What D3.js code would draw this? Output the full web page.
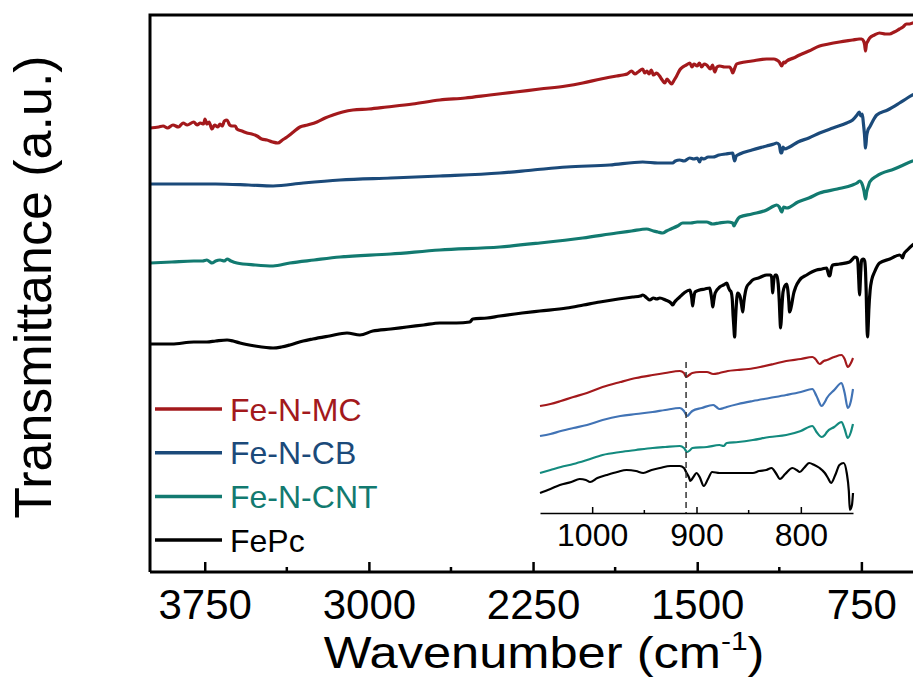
<!DOCTYPE html>
<html>
<head>
<meta charset="utf-8">
<script src="https://cdn.jsdelivr.net/npm/d3@7"></script>
<style>
    body { margin: 0; background: #fff; }
    text { font-family: "Liberation Sans", Arial, sans-serif; }
</style>
</head>
<body>
<div id="chart"></div>
<script>
// series names and colours
var seriesNames = ["Fe-N-MC", "Fe-N-CB", "Fe-N-CNT", "FePc"];
var seriesColors = ["#a3191c", "#1b4a7a", "#127a70", "#000000"];
var insetColors = ["#a3191c", "#4173b5", "#138a7e", "#000000"];

// main spectra: [wavenumber, transmittance (a.u., offset)]
var feNMC = [[4000,444],[3960,445],[3940,446],[3920,444],[3895,447],[3870,445],[3849,449],[3830,447],[3800,450],[3785,447],[3770,449],[3755,448],[3749,453],[3740,448],[3730,450],[3717,443],[3705,447],[3690,445],[3680,448],[3670,446],[3660,451],[3648,452],[3636,447],[3626,446],[3610,446],[3603,443],[3580,441],[3557,439],[3535,438],[3511,436],[3490,433],[3466,432],[3440,430],[3416,429],[3395,432],[3374,435],[3345,440],[3315,445],[3280,447],[3237,450],[3200,454],[3164,457],[3120,460],[3073,462],[3000,463],[2918,465],[2800,468],[2676,472],[2560,474],[2447,477],[2330,480],[2219,483],[2100,486],[2023,489],[1940,493],[1868,496],[1840,497],[1820,498],[1800,501],[1785,498],[1770,500],[1749,503],[1740,499],[1730,501],[1720,498],[1710,502],[1700,497],[1685,499],[1672,496],[1660,492],[1648,489],[1638,493],[1630,491],[1617,488],[1605,492],[1594,496],[1580,502],[1566,505],[1550,507],[1534,509],[1524,505],[1515,508],[1500,506],[1490,509],[1480,505],[1468,508],[1457,507],[1440,503],[1430,507],[1420,500],[1410,505],[1397,506],[1375,505],[1352,505],[1343,502],[1338,499],[1330,503],[1320,508],[1306,509],[1250,511],[1183,513],[1150,513],[1137,512],[1125,510],[1114,506],[1105,510],[1101,509],[1091,511],[1060,514],[1032,517],[990,521],[941,526],[900,528],[850,530],[790,532],[760,533],[749,533],[740,531],[735,527],[731,521],[727,528],[720,531],[712,534],[690,537],[667,539],[640,538],[621,538],[600,540],[576,543],[560,545],[544,548],[530,548],[516,549],[480,552]];
var feNCB = [[4000,388],[3850,388],[3700,388],[3550,387],[3438,386],[3300,389],[3132,392],[2900,394],[2676,396],[2402,399],[2250,402],[2096,405],[1900,407],[1749,410],[1680,409],[1612,409],[1600,411],[1580,412],[1560,411],[1534,414],[1515,413],[1500,414],[1489,410],[1482,414],[1470,413],[1450,415],[1429,415],[1400,417],[1370,418],[1338,419],[1333,414],[1329,411],[1322,416],[1306,418],[1250,422],[1183,426],[1150,428],[1137,429],[1125,427],[1118,419],[1114,419],[1108,425],[1101,423],[1078,425],[1040,430],[990,434],[941,439],[880,444],[817,449],[790,452],[770,457],[760,460],[752,456],[746,458],[741,449],[736,438],[731,424],[726,436],[720,442],[712,445],[700,450],[680,457],[630,462],[576,469],[540,474],[516,477],[480,481]];
var feNCNT = [[4000,309],[3900,310],[3800,311],[3760,311],[3740,312],[3725,310],[3717,309],[3700,311],[3680,312],[3660,311],[3648,313],[3630,311],[3603,309],[3520,307],[3438,306],[3361,309],[3250,312],[3132,315],[2900,318],[2676,322],[2402,325],[2219,329],[2023,334],[1868,339],[1800,341],[1731,343],[1700,341],[1680,340],[1658,339],[1640,341],[1620,343],[1590,346],[1566,349],[1530,349],[1500,350],[1457,350],[1430,348],[1400,349],[1360,350],[1338,349],[1332,346],[1325,349],[1306,355],[1250,358],[1183,362],[1150,366],[1137,367],[1125,365],[1114,360],[1105,365],[1091,364],[1040,370],[990,374],[941,379],[860,383],[790,387],[770,389],[758,391],[745,387],[738,381],[731,373],[726,380],[718,386],[712,390],[680,396],[600,403],[516,411],[480,414]];
var fePc = [[4000,228],[3900,228],[3800,230],[3740,230],[3700,231],[3648,232],[3620,231],[3589,229],[3520,226],[3438,224],[3400,225],[3361,227],[3300,231],[3256,233],[3180,236],[3100,239],[3041,237],[2982,241],[2900,243],[2827,245],[2750,247],[2676,249],[2600,249],[2539,250],[2525,253],[2460,254],[2402,256],[2300,259],[2219,261],[2096,264],[2020,267],[1945,270],[1860,273],[1795,275],[1760,276],[1749,277],[1730,274],[1717,272],[1700,274],[1685,273],[1671,274],[1645,272],[1620,269],[1612,267],[1603,270],[1595,272],[1580,275],[1560,279],[1534,282],[1528,278],[1525,274],[1521,266],[1516,274],[1510,280],[1489,282],[1465,283],[1443,284],[1437,278],[1433,272],[1429,265],[1424,272],[1418,279],[1397,285],[1380,287],[1365,289],[1358,285],[1352,282],[1345,280],[1340,273],[1336,256],[1333,246],[1329,235],[1326,248],[1322,265],[1315,279],[1305,276],[1298,268],[1292,260],[1287,270],[1280,280],[1274,285],[1260,289],[1247,292],[1220,294],[1183,297],[1165,297],[1160,295],[1157,284],[1155,279],[1152,288],[1145,297],[1137,297],[1130,288],[1125,270],[1122,254],[1119,244],[1116,252],[1113,265],[1108,280],[1100,286],[1091,288],[1086,282],[1082,272],[1078,260],[1074,262],[1068,268],[1060,278],[1050,285],[1032,292],[1000,297],[955,302],[930,303],[909,304],[903,300],[897,296],[893,297],[888,303],[881,307],[850,308],[804,310],[790,313],[781,315],[770,314],[766,310],[762,292],[760,282],[758,277],[756,285],[753,300],[749,312],[740,313],[735,311],[731,300],[728,280],[725,250],[722,235],[719,245],[716,262],[710,282],[703,292],[690,300],[667,309],[620,313],[576,317],[568,316],[562,314],[556,318],[540,322],[516,327],[480,332]];
var mainSeries = [feNMC, feNCB, feNCNT, fePc];

// inset spectra (1050 - 750 cm-1)
var insetMC = [[1050,107],[1040,109],[1030,112],[1018,116],[1005,120],[990,126],[973,131],[958,135],[942,138],[930,140],[916,142],[912,140],[910,136],[907,138],[904,140],[897,141],[890,141],[884,139],[878,140],[870,142],[861,143],[850,144],[839,146],[826,149],[814,152],[800,154],[789,156],[786,154],[782,149],[778,152],[775,153],[768,156],[761,158],[758,154],[755,146],[752,150],[750,155]];
var insetCB = [[1050,77],[1040,79],[1030,82],[1018,85],[1005,88],[990,93],[973,97],[958,99],[942,101],[930,103],[916,105],[912,102],[909,97],[906,100],[904,102],[895,105],[884,108],[881,106],[878,104],[874,105],[871,106],[860,109],[846,112],[830,115],[814,118],[800,121],[789,124],[785,117],[780,107],[777,111],[775,115],[768,123],[761,130],[758,120],[755,105],[752,112],[750,124]];
var insetCNT = [[1050,40],[1040,43],[1030,46],[1018,49],[1005,53],[990,58],[973,61],[958,63],[942,65],[930,66],[916,67],[912,65],[909,61],[906,63],[904,65],[890,66],[878,68],[874,67],[871,70],[860,71],[846,73],[830,76],[814,78],[800,82],[789,87],[785,81],[780,76],[777,78],[775,81],[768,86],[761,91],[758,84],[755,75],[752,81],[750,89]];
var insetPc = [[1050,20],[1040,24],[1031,28],[1020,31],[1012,34],[1006,33],[1002,31],[995,35],[986,38],[976,41],[967,43],[958,42],[951,40],[943,43],[935,45],[925,47],[916,47],[912,45],[910,41],[907,35],[906,32],[903,36],[900,40],[897,36],[893,27],[889,34],[885,41],[878,40],[871,40],[860,40],[846,40],[840,42],[833,43],[828,45],[824,40],[820,34],[815,39],[808,45],[804,43],[801,41],[797,45],[792,50],[787,48],[782,45],[777,40],[774,35],[771,30],[767,38],[763,48],[759,50],[756,40],[754,22],[753,3],[751,8],[750,20]];
var insetSeries = [insetMC, insetCB, insetCNT, insetPc];

var mainTicks = [3750, 3000, 2250, 1500, 750];
var mainMinorTicks = [3375, 2625, 1875, 1125];
var insetTicks = [1000, 900, 800];
var insetMinorTicks = [950, 850];
var markedPeak = 910;

var svgWidth = 913;
var svgHeight = 677;

var svg = d3.select("#chart")
    .append("svg")
    .attr("width", svgWidth)
    .attr("height", svgHeight);

// scales
var xScale = d3.scaleLinear().domain([4000, 400]).range([150, 938]);
var yScale = d3.scaleLinear().domain([0, 557]).range([572, 15]);

var xInset = d3.scaleLinear().domain([1050, 750]).range([540, 853]);
var yInset = d3.scaleLinear().domain([0, 160]).range([513, 353]);

var line = d3.line()
    .curve(d3.curveMonotoneX)
    .x(function(d) { return xScale(d[0]); })
    .y(function(d) { return yScale(d[1]); });

var insetLine = d3.line()
    .curve(d3.curveMonotoneX)
    .x(function(d) { return xInset(d[0]); })
    .y(function(d) { return yInset(d[1]); });

// main curves
svg.append("g")
    .selectAll("path")
    .data(mainSeries)
    .enter()
    .append("path")
    .attr("d", line)
    .attr("fill", "none")
    .attr("stroke", function(d, i) { return seriesColors[i]; })
    .attr("stroke-width", 3.2)
    .attr("stroke-linejoin", "round");

// frame
svg.append("path")
    .attr("d", "M" + xScale(4000) + "," + yScale(0) + "V" + yScale(557) + "H" + svgWidth)
    .attr("fill", "none")
    .attr("stroke", "#000")
    .attr("stroke-width", 3);

// bottom axis, ticks inward
var bottomAxis = d3.axisBottom(xScale)
    .tickValues(mainTicks)
    .tickSize(-10)
    .tickPadding(17)
    .tickFormat(d3.format("d"));

var gx = svg.append("g")
    .attr("transform", "translate(0," + yScale(0) + ")")
    .call(bottomAxis);
gx.select(".domain").attr("stroke-width", 3).attr("d", "M150,0H" + svgWidth);
gx.selectAll(".tick line").attr("stroke-width", 2.5);
gx.selectAll(".tick text").attr("font-size", 42).attr("fill", "#000")
    .attr("font-family", "'Liberation Sans', Arial, sans-serif");

gx.selectAll(".minor")
    .data(mainMinorTicks)
    .enter()
    .append("line")
    .attr("x1", function(d) { return xScale(d); })
    .attr("x2", function(d) { return xScale(d); })
    .attr("y1", 0)
    .attr("y2", -5)
    .attr("stroke", "#000")
    .attr("stroke-width", 2.5);

// axis titles
var xTitle = svg.append("text")
    .attr("transform", "translate(" + (xScale(4000) + xScale(400)) / 2 + ",668) scale(1.15,1)")
    .attr("text-anchor", "middle")
    .attr("font-size", 44);
xTitle.append("tspan").text("Wavenumber (cm");
xTitle.append("tspan").attr("font-size", 26).attr("dy", -18).text("-1");
xTitle.append("tspan").attr("dy", 18).text(")");

svg.append("text")
    .attr("transform", "translate(51," + 287 + ") rotate(-90)")
    .attr("text-anchor", "middle")
    .attr("font-size", 52)
    .text("Transmittance (a.u.)");

// legend
var legend = svg.append("g")
    .selectAll("g")
    .data(seriesNames)
    .enter()
    .append("g")
    .attr("transform", function(d, i) { return "translate(155," + (409 + i * 43.7) + ")"; });

legend.append("line")
    .attr("x1", 0)
    .attr("x2", 67)
    .attr("stroke", function(d, i) { return seriesColors[i]; })
    .attr("stroke-width", 3.5);

legend.append("text")
    .attr("x", 75)
    .attr("y", 11.5)
    .attr("font-size", 32)
    .attr("fill", function(d, i) { return seriesColors[i]; })
    .text(function(d) { return d; });

// inset
var inset = svg.append("g");

inset.selectAll("path")
    .data(insetSeries)
    .enter()
    .append("path")
    .attr("d", insetLine)
    .attr("fill", "none")
    .attr("stroke", function(d, i) { return insetColors[i]; })
    .attr("stroke-width", 2.2)
    .attr("stroke-linejoin", "round");

inset.append("line")
    .attr("x1", xInset(markedPeak))
    .attr("x2", xInset(markedPeak))
    .attr("y1", yInset(151))
    .attr("y2", yInset(0))
    .attr("stroke", "#333")
    .attr("stroke-width", 1.5)
    .attr("stroke-dasharray", "6,4");

var insetAxis = d3.axisBottom(xInset)
    .tickValues(insetTicks)
    .tickSize(-6)
    .tickPadding(10)
    .tickSizeOuter(0)
    .tickFormat(d3.format("d"));

var gi = inset.append("g")
    .attr("transform", "translate(0," + yInset(0) + ")")
    .call(insetAxis);
gi.select(".domain").attr("stroke-width", 1.5);
gi.selectAll(".tick line").attr("stroke-width", 1.5);
gi.selectAll(".tick text").attr("font-size", 32).attr("fill", "#000")
    .attr("font-family", "'Liberation Sans', Arial, sans-serif");

gi.selectAll(".minor")
    .data(insetMinorTicks)
    .enter()
    .append("line")
    .attr("x1", function(d) { return xInset(d); })
    .attr("x2", function(d) { return xInset(d); })
    .attr("y1", 0)
    .attr("y2", -3)
    .attr("stroke", "#000")
    .attr("stroke-width", 1.5);
</script>
</body>
</html>
